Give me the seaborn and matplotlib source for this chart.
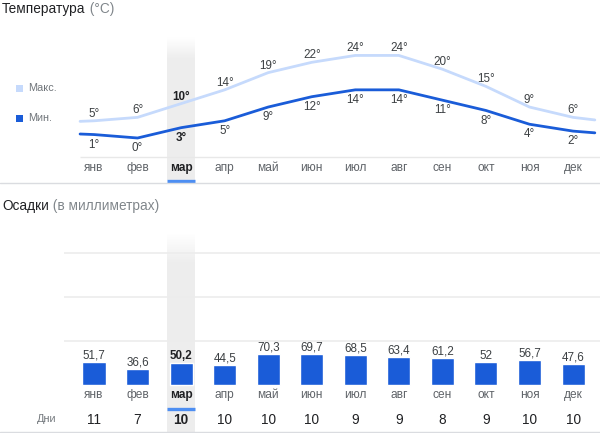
import numpy as np
import pandas as pd
import matplotlib
matplotlib.use("Agg")
import matplotlib.pyplot as plt
from matplotlib.patches import Rectangle
from matplotlib.lines import Line2D
import seaborn as sns

# ---------------- data ----------------
months = ["янв", "фев", "мар", "апр", "май", "июн", "июл", "авг", "сен", "окт", "ноя", "дек"]
t_max = [5, 6, 10, 14, 19, 22, 24, 24, 20, 15, 9, 6]
t_min = [1, 0, 3, 5, 9, 12, 14, 14, 11, 8, 4, 2]
precip = [51.7, 36.6, 50.2, 44.5, 70.3, 69.7, 68.5, 63.4, 61.2, 52, 56.7, 47.6]
precip_labels = ["51,7", "36,6", "50,2", "44,5", "70,3", "69,7", "68,5", "63,4", "61,2", "52", "56,7", "47,6"]
rain_days = [11, 7, 10, 10, 10, 10, 9, 9, 8, 9, 10, 10]
highlight = 2  # мар

sns.set_theme(style="white")
plt.rcParams["font.family"] = ["Liberation Sans", "DejaVu Sans"]

W, H = 600, 433
fig = plt.figure(figsize=(W / 100, H / 100), dpi=100)
fig.patch.set_facecolor("white")

def fx(px):
    return px / W

def fy(py):
    return 1 - py / H

C_MAX = "#c6dafc"
C_MIN = "#1a5cd8"
C_BAR = "#1a5cd8"
C_UL = "#4d8ef2"
C_TXT = "#3c4043"
C_MON = "#5f6368"
C_GRID = "#ececec"

X0 = 94.0      # pixel x of first month centre
DX = 43.55     # pixel spacing per month
left_px, right_px = 60, 600
xlim = ((left_px - X0) / DX, (right_px - X0) / DX)

def band(ax, y0, y1):
    n = 200
    grad = np.ones((n, 1, 4))
    grad[..., :3] = 0.93
    alpha = np.clip((np.arange(n) / n) / 0.15, 0, 1)
    grad[:, 0, 3] = alpha
    ax.imshow(grad, extent=[highlight - 0.32, highlight + 0.32, y0, y1],
              aspect="auto", origin="upper", zorder=0, interpolation="bilinear")

# ---------------- temperature axes ----------------
T0, TS = 138.0, 3.44   # pixel y of 0 deg, px per degree
tt, tb = 20, 183
ax1 = fig.add_axes([fx(left_px), fy(tb), fx(right_px - left_px), (tb - tt) / H])
ylim1 = ((T0 - tb) / TS, (T0 - tt) / TS)

band(ax1, (T0 - 180) / TS, (T0 - 37) / TS)

idx = np.arange(len(months))

def extend(vals):
    v = np.asarray(vals, float)
    xs = np.concatenate([[-0.32], idx, [11.5]])
    ys = np.concatenate([[v[0] + 0.32 * 0.5 * (v[0] - v[1])], v,
                         [v[-1] + 0.5 * 0.5 * (v[-1] - v[-2])]])
    return xs, ys

xs, ys = extend(t_max)
sns.lineplot(x=xs, y=ys, ax=ax1, color=C_MAX, lw=2.0, zorder=3, sort=False)
xs, ys = extend(t_min)
sns.lineplot(x=xs, y=ys, ax=ax1, color=C_MIN, lw=2.0, zorder=3, sort=False)

for i in idx:
    w = "bold" if i == highlight else "normal"
    c = "#202124" if i == highlight else C_TXT
    ax1.annotate(f"{t_max[i]}°", (i, t_max[i]), xytext=(0, 5.0), textcoords="offset points",
                 ha="center", va="center", fontsize=8.4, color=c, fontweight=w, zorder=4)
    ax1.annotate(f"{t_min[i]}°", (i, t_min[i]), xytext=(0, -7.3), textcoords="offset points",
                 ha="center", va="center", fontsize=8.4, color=c, fontweight=w, zorder=4)
    ax1.text(i, (T0 - 168.5) / TS, months[i], ha="center", va="center", fontsize=8.6,
             color="#202124" if i == highlight else C_MON, fontweight=w)

ax1.hlines((T0 - 157) / TS, -0.32, xlim[1], color="#e8e8e8", lw=1, zorder=1)
ax1.hlines((T0 - 181.5) / TS, highlight - 0.32, highlight + 0.32, color=C_UL, lw=2.4, zorder=5)
ax1.set_xlim(*xlim)
ax1.set_ylim(*ylim1)
ax1.axis("off")

# ---------------- precipitation axes ----------------
P0, PS = 385.0, 0.44   # pixel y of 0 mm, px per mm
pt, pb = 225, 433
ax2 = fig.add_axes([fx(left_px), fy(pb), fx(right_px - left_px), (pb - pt) / H])
ylim2 = ((P0 - pb) / PS, (P0 - pt) / PS)

band(ax2, (P0 - 433) / PS, (P0 - 233) / PS)

for g in (100, 200, 300):
    ax2.hlines(g, (64 - X0) / DX, xlim[1], color=C_GRID, lw=1.2, zorder=1)

df = pd.DataFrame({"x": idx, "mm": precip})
sns.barplot(data=df, x="x", y="mm", ax=ax2, color=C_BAR, saturation=1, width=0.53,
            native_scale=True, zorder=3)

for i in idx:
    w = "bold" if i == highlight else "normal"
    ax2.annotate(precip_labels[i], (i, precip[i]), xytext=(0, 4.7), textcoords="offset points",
                 ha="center", va="center", fontsize=8.4,
                 color="#202124" if i == highlight else C_TXT, fontweight=w, zorder=4)
    ax2.text(i, (P0 - 395) / PS, months[i], ha="center", va="center", fontsize=8.6,
             color="#202124" if i == highlight else C_MON, fontweight=w)
    ax2.text(i, (P0 - 420) / PS, str(rain_days[i]), ha="center", va="center", fontsize=9.8,
             color="#202124", fontweight=w)

ax2.hlines((P0 - 409) / PS, highlight - 0.32, highlight + 0.32, color=C_UL, lw=2.4, zorder=5)
ax2.set_xlim(*xlim)
ax2.set_ylim(*ylim2)
ax2.axis("off")

# ---------------- figure-level texts ----------------
t1 = fig.text(fx(2), fy(9.5), "Температура", fontsize=9.8, color="#202124", va="center", ha="left")
ax1.annotate(" (°C)", xy=(1, 0), xycoords=t1, va="bottom", ha="left", fontsize=9.8, color="#80868b")

t2 = fig.text(fx(2), fy(206), "Осадки", fontsize=9.8, color="#202124", va="center", ha="left")
ax2.annotate(" (в миллиметрах)", xy=(1, 0), xycoords=t2, va="bottom", ha="left", fontsize=9.8,
             color="#80868b")

# legend
for py, col, lab in ((88, C_MAX, "Макс."), (118, C_MIN, "Мин.")):
    fig.add_artist(Rectangle((fx(15.5), fy(py + 3.5)), 7 / W, 7 / H, transform=fig.transFigure,
                             facecolor=col, edgecolor="none"))
    fig.text(fx(28), fy(py), lab, fontsize=7.8, color="#70757a", va="center", ha="left")

fig.text(fx(47), fy(419), "Дни", fontsize=7.8, color="#70757a", va="center", ha="center")

# separators
fig.add_artist(Line2D([0, 1], [fy(183), fy(183)], transform=fig.transFigure, color="#dadce0", lw=1))
fig.add_artist(Line2D([0, 1], [fy(432), fy(432)], transform=fig.transFigure, color="#dadce0", lw=1))

fig.savefig("out.png", dpi=100, facecolor="white")
